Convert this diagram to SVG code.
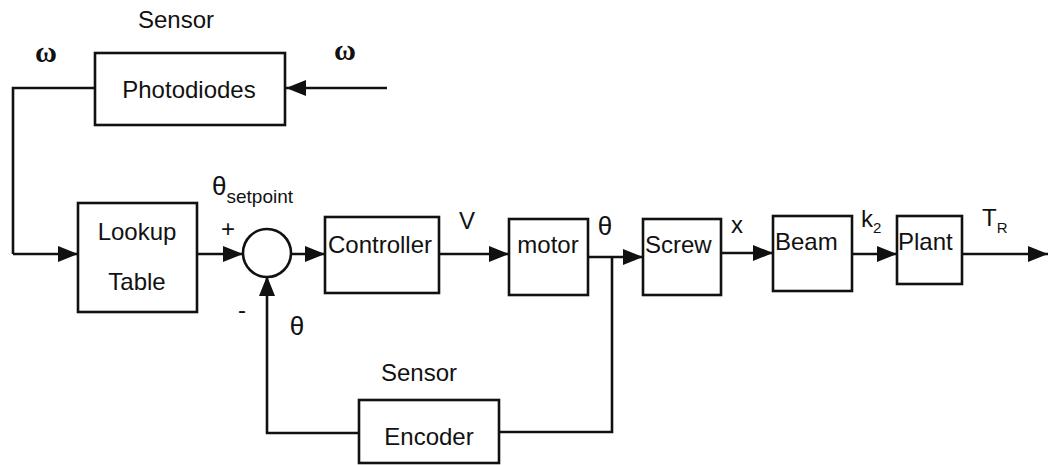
<svg xmlns="http://www.w3.org/2000/svg" width="1049" height="465" viewBox="0 0 1049 465">
<defs>
<marker id="ah" markerUnits="userSpaceOnUse" markerWidth="20" markerHeight="16" refX="20" refY="8" orient="auto">
<path d="M0,0 L20,8 L0,16 z" fill="#111"/>
</marker>
<style>
.box{fill:#fff;stroke:#111;stroke-width:2.6}
.ln{fill:none;stroke:#111;stroke-width:2.6}
.arr{fill:none;stroke:#111;stroke-width:2.6;marker-end:url(#ah)}
.t{font-family:"Liberation Sans",Arial,sans-serif;font-size:24px;fill:#111}
.c{text-anchor:middle}
.w{font-family:"Liberation Serif","Times New Roman",serif;font-size:30px;font-weight:bold;fill:#111;text-anchor:middle}
.th{font-family:"Liberation Sans",Arial,sans-serif;font-size:26px;fill:#111}
</style>
</defs>
<rect width="1049" height="465" fill="#fff"/>
<g id="connectors">
<path class="arr" d="M387,88 H286"/>
<path class="ln" d="M95,88 H13 V254"/>
<path class="arr" d="M13,254 H78"/>
<path class="arr" d="M197,254 H243"/>
<path class="arr" d="M291,254 H325"/>
<path class="arr" d="M439,254 H509"/>
<path class="arr" d="M588,257 H643"/>
<path class="arr" d="M721,253 H773"/>
<path class="arr" d="M852,254 H897"/>
<path class="arr" d="M962,254 H1048"/>
<path class="ln" d="M612,257 V432 H499"/>
<path class="arr" d="M359,433 H267 V276"/>
</g>
<g id="label-top-sensor"><text class="t c" x="176" y="28">Sensor</text></g>
<g id="label-omega-left"><text class="w" x="46" y="62">ω</text></g>
<g id="label-omega-right"><text class="w" x="345" y="60">ω</text></g>
<g id="photodiodes"><rect class="box" x="95" y="53" width="190" height="72"/><text class="t c" x="189" y="98">Photodiodes</text></g>
<g id="lookup"><rect class="box" x="78" y="203" width="119" height="109"/><text class="t c" x="137" y="240">Lookup</text><text class="t c" x="137" y="290">Table</text></g>
<g id="label-setpoint"><text class="th" x="212" y="195">θ<tspan font-size="19" dy="8">setpoint</tspan></text></g>
<g id="label-plus"><text class="t c" x="228" y="237" font-size="18">+</text></g>
<g id="label-minus"><text class="t c" x="242" y="318" font-size="20">-</text></g>
<g id="sum"><circle class="box" cx="267" cy="253" r="24"/></g>
<g id="controller"><rect class="box" x="325" y="217" width="114" height="76"/><text class="t c" x="380" y="253">Controller</text></g>
<g id="label-v"><text class="t c" x="467" y="229">V</text></g>
<g id="motor"><rect class="box" x="509" y="219" width="79" height="76"/><text class="t c" x="548" y="253">motor</text></g>
<g id="label-theta"><text class="th c" x="605" y="235">θ</text></g>
<g id="screw"><rect class="box" x="643" y="219" width="78" height="76"/><text class="t" x="645" y="253">Screw</text></g>
<g id="label-x"><text class="t c" x="737" y="233">x</text></g>
<g id="beam"><rect class="box" x="773" y="216" width="79" height="75"/><text class="t" x="775" y="250">Beam</text></g>
<g id="label-k2"><text class="t" x="861" y="227">k<tspan font-size="15" dy="6">2</tspan></text></g>
<g id="plant"><rect class="box" x="897" y="216" width="65" height="68"/><text class="t" x="898" y="250">Plant</text></g>
<g id="label-tr"><text class="t" x="982" y="226" font-size="20">T<tspan font-size="15" dy="7">R</tspan></text></g>
<g id="label-theta-fb"><text class="th c" x="297" y="335">θ</text></g>
<g id="label-bottom-sensor"><text class="t c" x="419" y="381">Sensor</text></g>
<g id="encoder"><rect class="box" x="359" y="400" width="140" height="63"/><text class="t c" x="429" y="445">Encoder</text></g>
</svg>
